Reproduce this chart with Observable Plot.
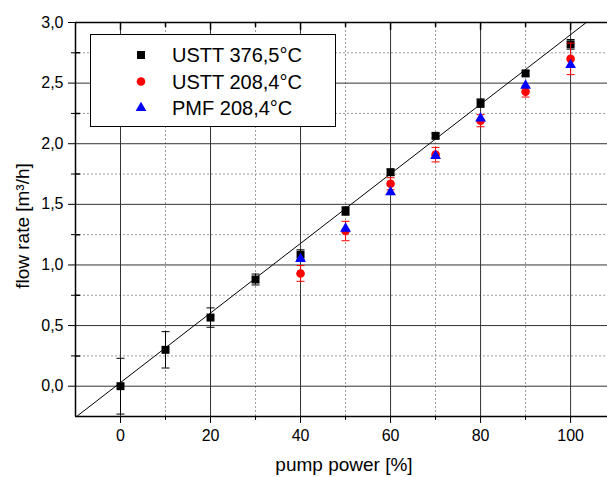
<!DOCTYPE html>
<html><head><meta charset="utf-8">
<script src="https://cdn.jsdelivr.net/npm/d3@7"></script>
<script src="https://cdn.jsdelivr.net/npm/@observablehq/plot@0.6"></script>
<style>
body{margin:0;background:#fff}
#chart{position:relative;width:607px;height:477px;overflow:hidden}
</style>
</head><body><div id="chart"></div>
<script>
// ---- data ----
const pumpPower = [0, 10, 20, 30, 40, 50, 60, 70, 80, 90, 100];
const usttHot = [0.00, 0.30, 0.566, 0.88, 1.085, 1.445, 1.765, 2.065, 2.335, 2.58, 2.82];
const usttHotErr = [0.23, 0.15, 0.08, 0.045, 0.04, 0.035, 0.025, 0.02, 0.035, 0.02, 0.04];
const pumpPower208 = [40, 50, 60, 70, 80, 90, 100];
const usttCold = [0.93, 1.28, 1.67, 1.91, 2.19, 2.43, 2.70];
const usttColdErr = [0.065, 0.08, 0.05, 0.06, 0.05, 0.045, 0.13];
const pmfCold = [1.05, 1.30, 1.60, 1.90, 2.21, 2.48, 2.65];
const seriesNames = ["USTT 376,5°C", "USTT 208,4°C", "PMF 208,4°C"];
const seriesColors = ["#000000", "#ff0000", "#0000ff"];
const seriesSymbols = ["square", "circle", "triangle"];
const xDomain = [-10, 108.2];
const yDomain = [-0.25, 3.0];
const xMajorTicks = [0, 20, 40, 60, 80, 100];
const xMinorTicks = [10, 30, 50, 70, 90];
const yMajorTicks = [0, 0.5, 1.0, 1.5, 2.0, 2.5, 3.0];
const yMinorTicks = [0.25, 0.75, 1.25, 1.75, 2.25, 2.75];
const fitIntercept = 0.03, fitSlope = 0.0287;
const xTitle = "pump power [%]";
const yTitle = "flow rate [m³/h]";

// ---- tables ----
const hot = pumpPower.map((p, i) => ({x: p, y: usttHot[i], e: usttHotErr[i]}));
const cold = pumpPower208.map((p, i) => ({x: p, y: usttCold[i], e: usttColdErr[i]}));
const pmf = pumpPower208.map((p, i) => ({x: p, y: pmfCold[i]}));
const fitLine = [xDomain[0], xDomain[1] + 5].map(x => ({x, y: fitIntercept + fitSlope * x}));

const lineShape = {draw(ctx, l) { ctx.moveTo(0, 0); ctx.lineTo(0, -l); }};
const capSymbol = {draw(ctx, size) { const r = Math.sqrt(size / Math.PI); ctx.moveTo(-r, 0); ctx.lineTo(r, 0); }};
const fmt = d => d.toFixed(1).replace(".", ",");

function errorBars(data, color) {
  return [
    Plot.ruleX(data, {x: "x", y1: d => d.y - d.e, y2: d => d.y + d.e, stroke: color, strokeWidth: 1}),
    Plot.dot(data, {x: "x", y: d => d.y + d.e, symbol: capSymbol, r: 4, stroke: color, fill: "none", strokeWidth: 1}),
    Plot.dot(data, {x: "x", y: d => d.y - d.e, symbol: capSymbol, r: 4, stroke: color, fill: "none", strokeWidth: 1})
  ];
}

const svg = Plot.plot({
  width: 607, height: 477,
  marginLeft: 75, marginRight: 0, marginTop: 22, marginBottom: 61,
  style: {fontFamily: "'Liberation Sans', Arial, sans-serif", fontSize: "16px", color: "#000", background: "#fff", overflow: "visible"},
  x: {domain: xDomain},
  y: {domain: yDomain},
  marks: [
    Plot.gridX(xMinorTicks, {stroke: "#9a9a9a", strokeOpacity: 1, strokeDasharray: "2,2"}),
    Plot.gridY(yMinorTicks, {stroke: "#9a9a9a", strokeOpacity: 1, strokeDasharray: "2,2"}),
    Plot.gridX(xMajorTicks, {stroke: "#333", strokeOpacity: 1}),
    Plot.gridY(yMajorTicks, {stroke: "#333", strokeOpacity: 1}),
    Plot.line(fitLine, {x: "x", y: "y", stroke: "#000", strokeWidth: 1, clip: true}),
    Plot.axisX(xMajorTicks, {anchor: "bottom", tickSize: 7, tickPadding: 6, tickFormat: d => String(d), label: null, fontSize: 16}),
    Plot.axisX(xMinorTicks, {anchor: "bottom", tickSize: 4, tickFormat: () => "", label: null}),
    Plot.axisY(yMajorTicks, {anchor: "left", tickSize: 7, tickPadding: 5, tickFormat: fmt, label: null, fontSize: 16}),
    Plot.axisY(yMinorTicks, {anchor: "left", tickSize: 4, tickFormat: () => "", label: null}),
    Plot.vector(xMajorTicks, {x: d => d, frameAnchor: "top", length: 7, rotate: 180, anchor: "start", shape: lineShape, stroke: "#000"}),
    Plot.vector(xMinorTicks, {x: d => d, frameAnchor: "top", length: 4, rotate: 180, anchor: "start", shape: lineShape, stroke: "#000"}),
    Plot.vector(yMinorTicks, {y: d => d, frameAnchor: "left", length: 4, rotate: 90, anchor: "start", shape: lineShape, stroke: "#000"}),
    Plot.ruleY([yDomain[1]], {stroke: "#000", strokeWidth: 1.5}),
    Plot.ruleY([yDomain[0]], {stroke: "#000", strokeWidth: 1.5}),
    Plot.ruleX([xDomain[0]], {stroke: "#000", strokeWidth: 1.5}),
    ...errorBars(hot, seriesColors[0]),
    Plot.dot(hot, {x: "x", y: "y", symbol: seriesSymbols[0], r: 4.5, fill: seriesColors[0], stroke: "none"}),
    ...errorBars(cold, seriesColors[1]),
    Plot.dot(cold, {x: "x", y: "y", symbol: seriesSymbols[1], r: 4.3, fill: seriesColors[1], stroke: "none"}),
    Plot.dot(pmf, {x: "x", y: "y", symbol: seriesSymbols[2], r: 4.0, fill: seriesColors[2], stroke: "none"})
  ]
});

// ---- titles & legend (layout) ----
const s = d3.select(svg);
s.append("text").attr("x", 344).attr("y", 471).attr("text-anchor", "middle")
  .attr("font-size", 19).attr("fill", "#000").text(xTitle);
s.append("text").attr("transform", "translate(29,226) rotate(-90)").attr("text-anchor", "middle")
  .attr("font-size", 19).attr("fill", "#000").text(yTitle);

const lg = s.append("g");
lg.append("rect").attr("x", 90.5).attr("y", 34.5).attr("width", 245).attr("height", 92)
  .attr("fill", "#fff").attr("stroke", "#000").attr("stroke-width", 1);
const symMap = {square: d3.symbolSquare, circle: d3.symbolCircle, triangle: d3.symbolTriangle};
const symR = [4.5, 4.3, 4.0];
seriesNames.forEach((name, i) => {
  const cy = 55 + i * 26.5;
  lg.append("path").attr("d", d3.symbol(symMap[seriesSymbols[i]], Math.PI * symR[i] * symR[i])())
    .attr("transform", `translate(141,${cy})`).attr("fill", seriesColors[i]);
  lg.append("text").attr("x", 172).attr("y", cy + 7).attr("text-anchor", "start")
    .attr("font-size", 20).attr("fill", "#000").text(name);
});

document.getElementById("chart").appendChild(svg);
</script>
</body></html>
